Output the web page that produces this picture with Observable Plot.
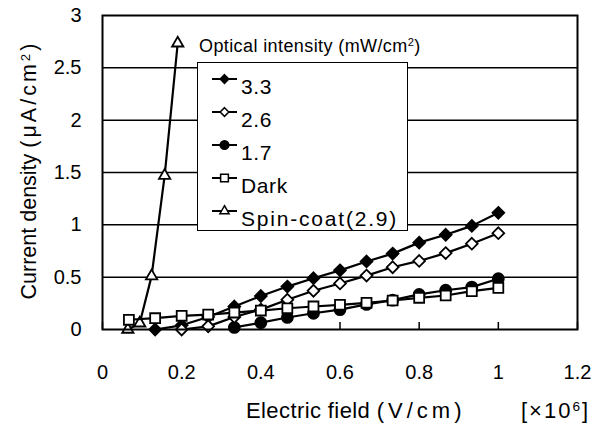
<!DOCTYPE html>
<html><head><meta charset="utf-8">
<script src="https://cdn.jsdelivr.net/npm/d3@7"></script>
<script src="https://cdn.jsdelivr.net/npm/@observablehq/plot@0.6"></script>
<style>
body{margin:0;background:#fff;}
#wrap{position:relative;width:599px;height:428px;font-family:"Liberation Sans",Arial,sans-serif;color:#000;background:#fff;}
.abs{position:absolute;white-space:nowrap;line-height:1;}
sup{font-size:0.62em;vertical-align:0.5em;line-height:0;}
</style></head><body><div id="wrap"></div>
<script>
// ---- data ----
const seriesNames = ["3.3", "2.6", "1.7", "Dark", "Spin-coat(2.9)"];
const legendTitle = "Optical intensity (mW/cm²)";

const x33 = [0.133, 0.2, 0.267, 0.333, 0.4, 0.467, 0.533, 0.6, 0.667, 0.733, 0.8, 0.867, 0.933, 1.0];
const y33 = [0.0, 0.04, 0.12, 0.22, 0.32, 0.41, 0.49, 0.565, 0.65, 0.725, 0.83, 0.905, 0.99, 1.115];

const x26 = [0.2, 0.267, 0.333, 0.4, 0.467, 0.533, 0.6, 0.667, 0.733, 0.8, 0.867, 0.933, 1.0];
const y26 = [0.0, 0.03, 0.12, 0.19, 0.285, 0.37, 0.44, 0.515, 0.595, 0.655, 0.73, 0.82, 0.92];

const x17 = [0.333, 0.4, 0.467, 0.533, 0.6, 0.667, 0.733, 0.8, 0.867, 0.933, 1.0];
const y17 = [0.02, 0.065, 0.115, 0.155, 0.19, 0.24, 0.28, 0.335, 0.375, 0.405, 0.485];

const xDark = [0.0667, 0.133, 0.2, 0.267, 0.333, 0.4, 0.467, 0.533, 0.6, 0.667, 0.733, 0.8, 0.867, 0.933, 1.0];
const yDark = [0.093, 0.108, 0.131, 0.143, 0.162, 0.181, 0.203, 0.22, 0.236, 0.255, 0.277, 0.303, 0.325, 0.366, 0.398];

const xSpin = [0.064, 0.094, 0.124, 0.157, 0.19];
const ySpin = [0.0, 0.06, 0.51, 1.47, 2.735];

const xTicks = [0, 0.2, 0.4, 0.6, 0.8, 1, 1.2];
const xTickLabels = ["0", "0.2", "0.4", "0.6", "0.8", "1", "1.2"];
const yTicks = [0, 0.5, 1, 1.5, 2, 2.5, 3];
const yTickLabels = ["0", "0.5", "1", "1.5", "2", "2.5", "3"];
const yGrid = [0.5, 1, 1.5, 2, 2.5];

// ---- build ----
const toRows = (xs, ys) => xs.map((x, i) => ({x, y: ys[i]}));
const series = [
  {name: seriesNames[4], rows: toRows(xSpin, ySpin), symbol: "triangle", fill: "white", r: 4.2},
  {name: seriesNames[2], rows: toRows(x17, y17), symbol: "circle", fill: "black", r: 5.5},
  {name: seriesNames[0], rows: toRows(x33, y33), symbol: "diamond2", fill: "black", r: 5.3},
  {name: seriesNames[1], rows: toRows(x26, y26), symbol: "diamond2", fill: "white", r: 5.3},
  {name: seriesNames[3], rows: toRows(xDark, yDark), symbol: "square", fill: "white", r: 5.6}
];

const marks = [
  Plot.ruleY(yGrid, {stroke: "#000", strokeWidth: 1.5}),
  Plot.axisX({ticks: xTicks, tickSize: -7, strokeWidth: 1.5, tickFormat: () => "", label: null}),
  Plot.axisX({ticks: xTicks, tickSize: 0, tickPadding: 35, fontSize: 20,
    tickFormat: d => xTickLabels[xTicks.indexOf(d)], label: null}),
  Plot.axisY({ticks: yTicks, tickSize: 0, tickPadding: 21, fontSize: 20,
    tickFormat: d => yTickLabels[yTicks.indexOf(d)], label: null})
];
for (const s of series) {
  marks.push(Plot.line(s.rows, {x: "x", y: "y", stroke: "#000", strokeWidth: 2.2}));
  marks.push(Plot.dot(s.rows, {x: "x", y: "y", symbol: s.symbol, r: s.r, fill: s.fill, stroke: "#000", strokeWidth: 1.8}));
}
marks.push(Plot.frame({stroke: "#000", strokeWidth: 2}));

const plot = Plot.plot({
  width: 599, height: 428,
  marginTop: 15, marginRight: 22, marginBottom: 99, marginLeft: 102,
  x: {domain: [0, 1.2]},
  y: {domain: [0, 3]},
  style: {fontFamily: '"Liberation Sans", Arial, sans-serif', fontSize: "20px", color: "#000", background: "#fff", overflow: "visible"},
  marks
});
const wrap = document.getElementById("wrap");
wrap.appendChild(plot);
plot.style.position = "absolute"; plot.style.left = "0"; plot.style.top = "0";

// ---- labels ----
function addDiv(html, css) {
  const d = document.createElement("div");
  d.className = "abs";
  d.innerHTML = html;
  Object.assign(d.style, css);
  wrap.appendChild(d);
  return d;
}
// y axis label
addDiv('Current density <span style="letter-spacing:3px">(μA/cm<sup>2</sup>)</span>', {
  left: "30px", top: "170px", fontSize: "21.5px",
  transform: "translate(-50%,-50%) rotate(-90deg)"
});
// x axis label
addDiv('Electric field <span style="letter-spacing:4px">(V/cm)</span>', {left: "246px", top: "400px", fontSize: "22px", letterSpacing: "0.4px"});
addDiv('[×10<sup>6</sup>]', {left: "521px", top: "400px", fontSize: "22px", letterSpacing: "2px"});

// legend title
addDiv(legendTitle.replace("²", "<sup>2</sup>"), {left: "199px", top: "37px", fontSize: "18px", letterSpacing: "0.4px"});

// legend box
const box = addDiv("", {left: "197px", top: "62px", width: "209px", height: "167px",
  border: "1.5px solid #000", background: "#fff"});
const legendOrder = [
  {name: seriesNames[0], symbol: d3.symbolDiamond2, fill: "black", size: 48},
  {name: seriesNames[1], symbol: d3.symbolDiamond2, fill: "white", size: 48},
  {name: seriesNames[2], symbol: d3.symbolCircle, fill: "black", size: 60},
  {name: seriesNames[3], symbol: d3.symbolSquare, fill: "white", size: 60},
  {name: seriesNames[4], symbol: d3.symbolTriangle, fill: "white", size: 36}
];
const lsvg = d3.create("svg").attr("width", 209).attr("height", 167)
  .style("position", "absolute").style("left", "0").style("top", "0").style("overflow", "visible")
  .style("font-family", '"Liberation Sans", Arial, sans-serif');
legendOrder.forEach((it, i) => {
  const cy = 16 + i * 33;
  const g = lsvg.append("g").attr("transform", `translate(0,${cy})`);
  g.append("line").attr("x1", 14).attr("x2", 39).attr("y1", 0).attr("y2", 0).attr("stroke", "#000").attr("stroke-width", 2);
  g.append("path").attr("d", d3.symbol(it.symbol, it.size)()).attr("transform", "translate(26.5,0)")
    .attr("fill", it.fill).attr("stroke", "#000").attr("stroke-width", 1.5);
  g.append("text").attr("x", 43).attr("y", 14.5).attr("font-size", 21)
    .attr("letter-spacing", i === 4 ? 1.8 : 0.6).text(it.name);
});
box.appendChild(lsvg.node());
</script></body></html>
